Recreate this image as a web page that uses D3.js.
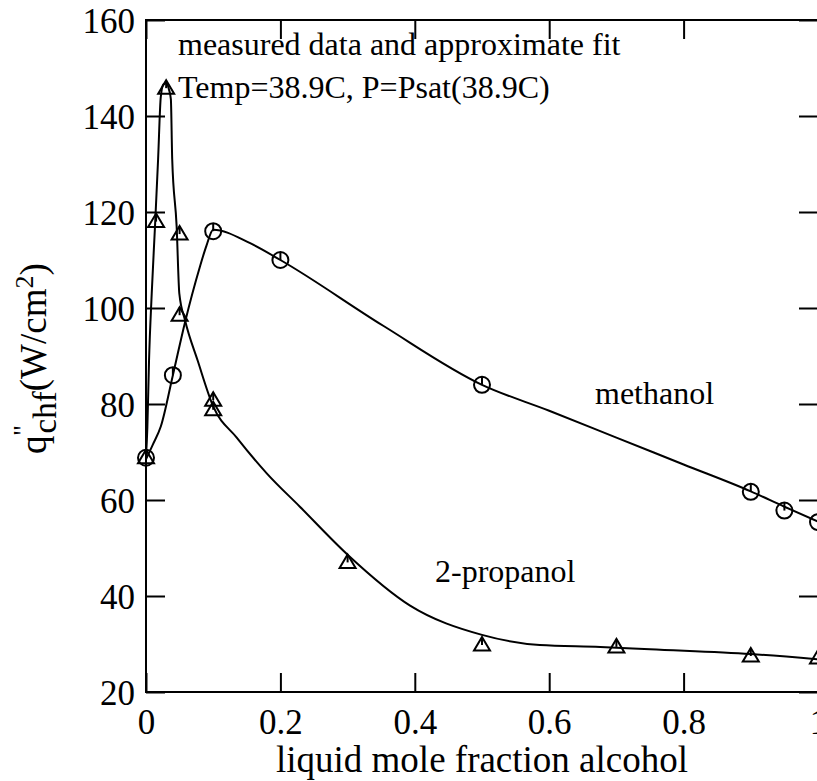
<!DOCTYPE html>
<html>
<head>
<meta charset="utf-8">
<script src="https://cdn.jsdelivr.net/npm/d3@7"></script>
<style>
  html, body { margin: 0; padding: 0; background: #fff; }
  svg { display: block; }
  text { font-family: "Liberation Serif", "Times New Roman", serif; fill: #000; }
</style>
</head>
<body>
<svg id="chart" width="817" height="781"></svg>
<script>
// ---- data ----
const xTicks = [0, 0.2, 0.4, 0.6, 0.8, 1];
const xTickLabels = ["0", "0.2", "0.4", "0.6", "0.8", "1"];
const yTicks = [20, 40, 60, 80, 100, 120, 140, 160];
const yTickLabels = ["20", "40", "60", "80", "100", "120", "140", "160"];

// measured data: methanol (circles)
const methX = [0, 0.04, 0.1, 0.2, 0.5, 0.9, 0.95, 1.0];
const methY = [68.8, 86, 116, 110, 84, 61.7, 57.8, 55.4];
const methErr = [1.6, 1.6, 1.6, 1.6, 1.6, 1.6, 1.6, 1.6];

// measured data: 2-propanol (triangles)
const propX = [0, 0.015, 0.03, 0.05, 0.05, 0.1, 0.1, 0.3, 0.5, 0.7, 0.9, 1.0];
const propY = [68.8, 118, 145.8, 115.4, 98.5, 80.8, 78.8, 47, 29.8, 29.4, 27.5, 27.1];
const propErr = [1.6, 1.6, 1.6, 1.6, 1.6, 1.6, 1.6, 1.6, 1.6, 1.6, 1.6, 1.6];

// approximate fit curves
const methFitX = [0, 0.01, 0.022, 0.04, 0.058, 0.08, 0.09, 0.1, 0.155, 0.2, 0.353, 0.5, 0.6, 0.7, 0.8, 0.9, 0.95, 1.0];
const methFitY = [68.5, 71.5, 75.3, 86, 97, 108.5, 113, 116.3, 113.5, 110, 96.3, 84, 78.6, 73, 67.4, 61.8, 58.6, 55.5];

const propFitX = [0, 0.002, 0.0045, 0.0085, 0.0134, 0.018, 0.022, 0.026, 0.03, 0.034, 0.037, 0.039, 0.0456, 0.0496, 0.058, 0.077, 0.1, 0.135, 0.18, 0.229, 0.3, 0.393, 0.5, 0.586, 0.676, 0.75, 0.9, 1.0];
const propFitY = [69, 75, 89, 103, 117, 131, 144, 146.6, 146.8, 145.6, 143.5, 131, 117, 103, 97.5, 89, 79.5, 73, 65.5, 58.6, 48.6, 38, 31.9, 29.8, 29.4, 28.9, 27.9, 26.8];

const titleLines = ["measured data and approximate fit", "Temp=38.9C, P=Psat(38.9C)"];
const seriesLabels = ["methanol", "2-propanol"];
const xTitle = "liquid mole fraction alcohol";

// ---- layout ----
const L = 146, R = 818, T = 20, B = 692;
const svg = d3.select("#chart");
const x = d3.scaleLinear().domain([0, 1]).range([L, R]);
const y = d3.scaleLinear().domain([20, 160]).range([B, T]);

const tickLen = 19;
const axisW = 2;

// frame
svg.append("rect").attr("x", L).attr("y", T).attr("width", R - L).attr("height", B - T)
  .attr("fill", "none").attr("stroke", "#000").attr("stroke-width", axisW);

// axes with inward ticks
const fmtX = (d, i) => xTickLabels[i];
const fmtY = (d, i) => yTickLabels[i];

const gB = svg.append("g").attr("transform", `translate(0,${B})`)
  .call(d3.axisBottom(x).tickValues(xTicks).tickFormat(fmtX).tickSizeInner(-tickLen).tickSizeOuter(0).tickPadding(0));
const gT = svg.append("g").attr("transform", `translate(0,${T})`)
  .call(d3.axisTop(x).tickValues(xTicks).tickFormat("").tickSizeInner(-tickLen).tickSizeOuter(0));
const gL = svg.append("g").attr("transform", `translate(${L},0)`)
  .call(d3.axisLeft(y).tickValues(yTicks).tickFormat(fmtY).tickSizeInner(-tickLen).tickSizeOuter(0).tickPadding(0));
const gR = svg.append("g").attr("transform", `translate(${R},0)`)
  .call(d3.axisRight(y).tickValues(yTicks).tickFormat("").tickSizeInner(-tickLen).tickSizeOuter(0));

[gB, gT, gL, gR].forEach(g => {
  g.select(".domain").remove();
  g.selectAll(".tick line").attr("stroke", "#000").attr("stroke-width", 2);
  g.selectAll("text").attr("fill", "#000").attr("font-family", '"Liberation Serif", serif');
});
gB.selectAll(".tick text").attr("font-size", 35).attr("y", 42).attr("dy", 0);
gL.selectAll(".tick text").attr("font-size", 35).attr("x", -11).attr("dy", 12.5).attr("text-anchor", "end");

// fit curves
const line = d3.line().x(d => x(d[0])).y(d => y(d[1])).curve(d3.curveMonotoneX);
svg.append("path").datum(methFitX.map((v, i) => [v, methFitY[i]]))
  .attr("d", line).attr("fill", "none").attr("stroke", "#000").attr("stroke-width", 2);
svg.append("path").datum(propFitX.map((v, i) => [v, propFitY[i]]))
  .attr("d", line).attr("fill", "none").attr("stroke", "#000").attr("stroke-width", 2);

// error bars (small, upward)
function errBars(xs, ys, es) {
  svg.append("g").selectAll("line").data(xs.map((v, i) => [v, ys[i], es[i]])).join("line")
    .attr("x1", d => x(d[0])).attr("x2", d => x(d[0]))
    .attr("y1", d => y(d[1])).attr("y2", d => y(d[1] + d[2]))
    .attr("stroke", "#000").attr("stroke-width", 2);
}
errBars(methX, methY, methErr);
errBars(propX, propY, propErr);

// circle markers
svg.append("g").selectAll("circle").data(methX.map((v, i) => [v, methY[i]])).join("circle")
  .attr("cx", d => x(d[0])).attr("cy", d => y(d[1])).attr("r", 8)
  .attr("fill", "none").attr("stroke", "#000").attr("stroke-width", 2);

// triangle markers
svg.append("g").selectAll("path").data(propX.map((v, i) => [v, propY[i]])).join("path")
  .attr("d", d => {
    const cx = x(d[0]), cy = y(d[1]);
    return `M${cx},${cy - 8}L${cx + 8},${cy + 5.5}L${cx - 8},${cy + 5.5}Z`;
  })
  .attr("fill", "none").attr("stroke", "#000").attr("stroke-width", 2).attr("stroke-linejoin", "miter");

// text annotations
svg.append("text").attr("x", 178).attr("y", 55).attr("font-size", 32).text(titleLines[0]);
svg.append("text").attr("x", 178).attr("y", 98).attr("font-size", 32).text(titleLines[1]);
svg.append("text").attr("x", 595).attr("y", 404).attr("font-size", 32).text(seriesLabels[0]);
svg.append("text").attr("x", 435).attr("y", 582).attr("font-size", 32).text(seriesLabels[1]);

// x axis title
svg.append("text").attr("x", (L + R) / 2).attr("y", 772).attr("text-anchor", "middle")
  .attr("font-size", 37).text(xTitle);

// y axis title: q''_chf (W/cm^2)
const yt = svg.append("text").attr("transform", "translate(46,454) rotate(-90)")
  .attr("text-anchor", "start").attr("font-size", 37);
yt.append("tspan").text("q");
yt.append("tspan").attr("font-size", 28).attr("dy", -14).text("''");
yt.append("tspan").attr("font-size", 33).attr("dx", -8).attr("dy", 24).text("chf");
yt.append("tspan").attr("dy", -10).text("(W/cm");
yt.append("tspan").attr("font-size", 26).attr("dy", -13).text("2");
yt.append("tspan").attr("dy", 13).text(")");
</script>
</body>
</html>
